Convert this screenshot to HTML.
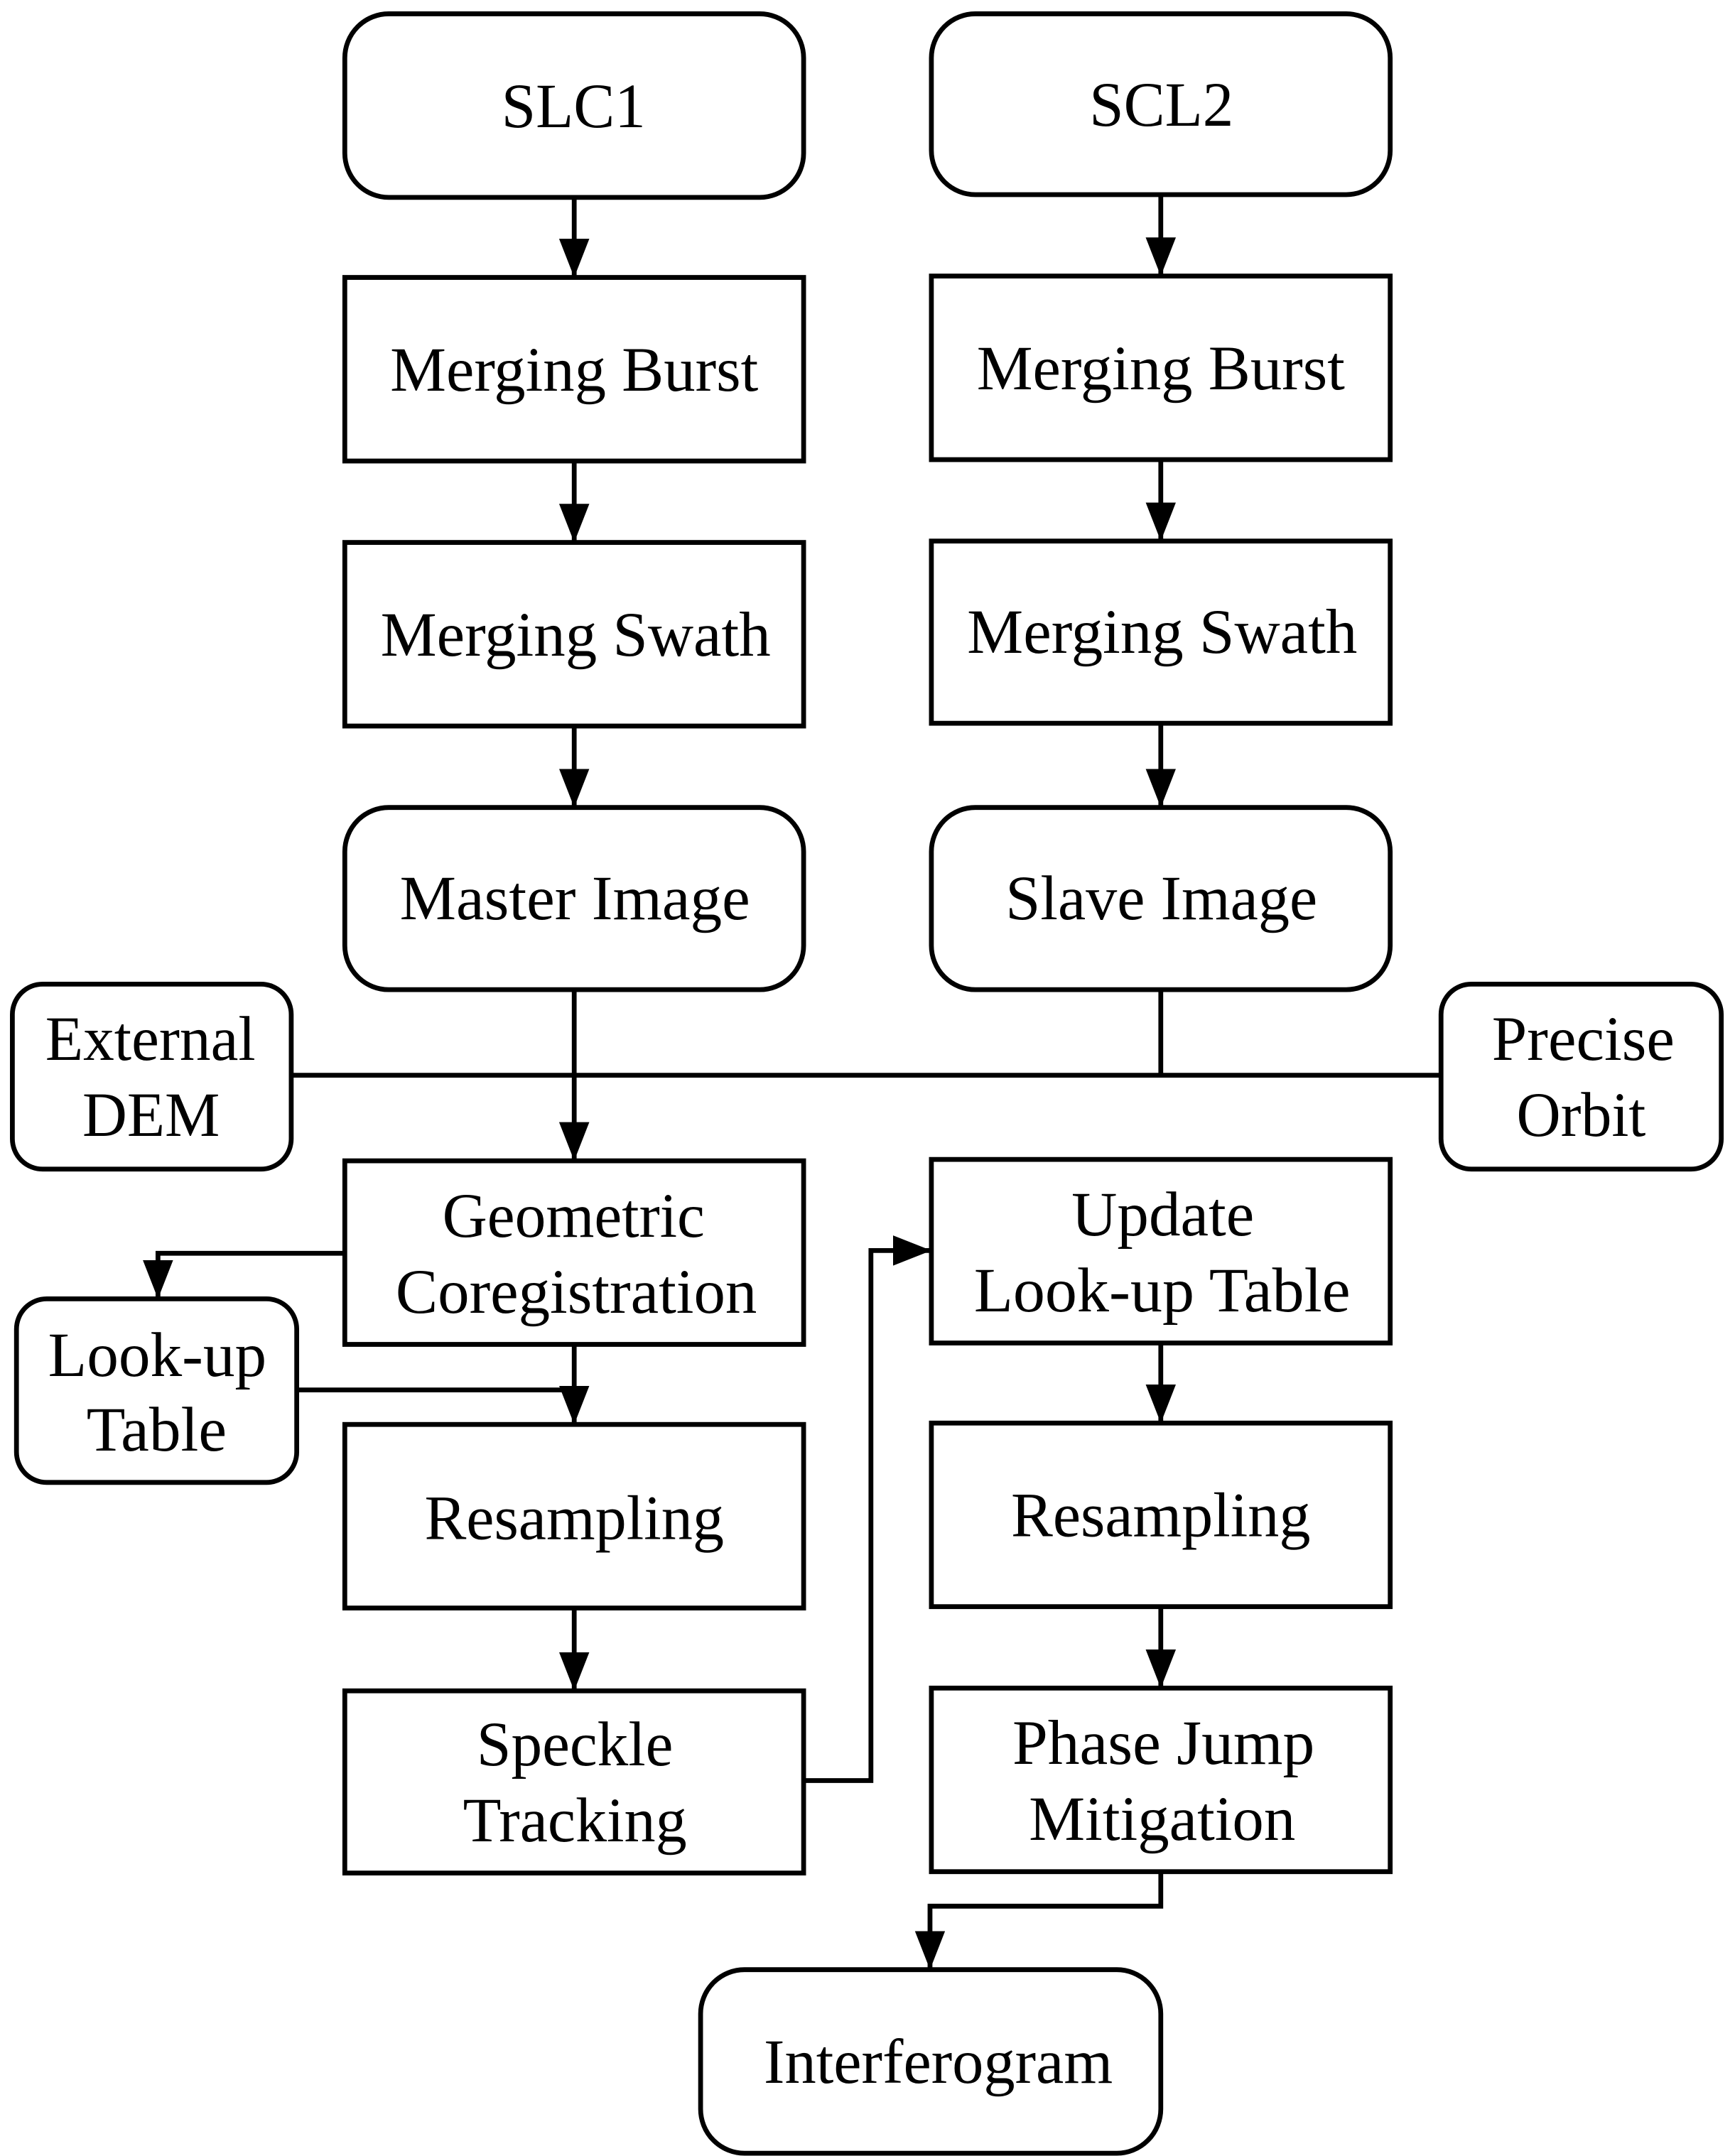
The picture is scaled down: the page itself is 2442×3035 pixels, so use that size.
<!DOCTYPE html>
<html><head><meta charset="utf-8"><style>html,body{margin:0;padding:0;background:#fff;}svg{display:block}</style></head>
<body>
<svg width="2442" height="3035" viewBox="0 0 1263 1562" preserveAspectRatio="none" xmlns="http://www.w3.org/2000/svg">
<defs><marker id="a" markerWidth="28" markerHeight="22" refX="28" refY="11" orient="auto" markerUnits="userSpaceOnUse" viewBox="0 0 28 22"><path d="M0,0 L28,11 L0,22 Z" fill="#000"/></marker></defs>
<g fill="#fff" stroke="#000" stroke-width="3.5">
<rect x="251" y="10" width="334" height="133" rx="32"/>
<rect x="678" y="10" width="334" height="131" rx="32"/>
<rect x="251" y="201" width="334" height="133"/>
<rect x="678" y="200" width="334" height="133"/>
<rect x="251" y="393" width="334" height="133"/>
<rect x="678" y="392" width="334" height="132"/>
<rect x="251" y="585" width="334" height="132" rx="32"/>
<rect x="678" y="585" width="334" height="132" rx="32"/>
<rect x="9" y="713" width="203" height="134" rx="22"/>
<rect x="1049" y="713" width="204" height="134" rx="22"/>
<rect x="251" y="841" width="334" height="133"/>
<rect x="678" y="840" width="334" height="133"/>
<rect x="12" y="941" width="204" height="133" rx="22"/>
<rect x="251" y="1032" width="334" height="133"/>
<rect x="678" y="1031" width="334" height="133"/>
<rect x="251" y="1225" width="334" height="132"/>
<rect x="678" y="1223" width="334" height="133"/>
<rect x="510" y="1427" width="335" height="133" rx="32"/>
</g>
<g fill="none" stroke="#000" stroke-width="3.5">
<line x1="418" y1="143" x2="418" y2="201" marker-end="url(#a)"/>
<line x1="845" y1="141" x2="845" y2="200" marker-end="url(#a)"/>
<line x1="418" y1="334" x2="418" y2="393" marker-end="url(#a)"/>
<line x1="845" y1="333" x2="845" y2="392" marker-end="url(#a)"/>
<line x1="418" y1="526" x2="418" y2="585" marker-end="url(#a)"/>
<line x1="845" y1="524" x2="845" y2="585" marker-end="url(#a)"/>
<line x1="418" y1="717" x2="418" y2="841" marker-end="url(#a)"/>
<line x1="845" y1="717" x2="845" y2="779"/>
<line x1="212" y1="779" x2="1049" y2="779"/>
<polyline points="251,908 115,908 115,941" marker-end="url(#a)"/>
<polyline points="216,1007 418,1007"/>
<line x1="418" y1="974" x2="418" y2="1032" marker-end="url(#a)"/>
<line x1="418" y1="1165" x2="418" y2="1225" marker-end="url(#a)"/>
<polyline points="585,1290 634,1290 634,906 678,906" marker-end="url(#a)"/>
<line x1="845" y1="973" x2="845" y2="1031" marker-end="url(#a)"/>
<line x1="845" y1="1164" x2="845" y2="1223" marker-end="url(#a)"/>
<polyline points="845,1356 845,1381 677,1381 677,1427" marker-end="url(#a)"/>
</g>
<g font-family="'Liberation Serif', serif" font-size="46" fill="#000">
<text x="365" y="92" textLength="105" lengthAdjust="spacingAndGlyphs">SLC1</text>
<text x="793" y="91" textLength="105" lengthAdjust="spacingAndGlyphs">SCL2</text>
<text x="284" y="283" textLength="268" lengthAdjust="spacingAndGlyphs">Merging Burst</text>
<text x="711" y="282" textLength="268" lengthAdjust="spacingAndGlyphs">Merging Burst</text>
<text x="277" y="475" textLength="284" lengthAdjust="spacingAndGlyphs">Merging Swath</text>
<text x="704" y="473" textLength="284" lengthAdjust="spacingAndGlyphs">Merging Swath</text>
<text x="291" y="666" textLength="255" lengthAdjust="spacingAndGlyphs">Master Image</text>
<text x="732" y="666" textLength="227" lengthAdjust="spacingAndGlyphs">Slave Image</text>
<text x="33" y="768" textLength="153" lengthAdjust="spacingAndGlyphs">External</text>
<text x="60" y="823" textLength="100" lengthAdjust="spacingAndGlyphs">DEM</text>
<text x="1086" y="768" textLength="133" lengthAdjust="spacingAndGlyphs">Precise</text>
<text x="1104" y="823" textLength="94" lengthAdjust="spacingAndGlyphs">Orbit</text>
<text x="322" y="896" textLength="191" lengthAdjust="spacingAndGlyphs">Geometric</text>
<text x="288" y="951" textLength="263" lengthAdjust="spacingAndGlyphs">Coregistration</text>
<text x="780" y="895" textLength="133" lengthAdjust="spacingAndGlyphs">Update</text>
<text x="709" y="950" textLength="274" lengthAdjust="spacingAndGlyphs">Look-up Table</text>
<text x="35" y="997" textLength="159" lengthAdjust="spacingAndGlyphs">Look-up</text>
<text x="63" y="1051" textLength="102" lengthAdjust="spacingAndGlyphs">Table</text>
<text x="309" y="1115" textLength="218" lengthAdjust="spacingAndGlyphs">Resampling</text>
<text x="736" y="1113" textLength="218" lengthAdjust="spacingAndGlyphs">Resampling</text>
<text x="347" y="1279" textLength="143" lengthAdjust="spacingAndGlyphs">Speckle</text>
<text x="337" y="1334" textLength="163" lengthAdjust="spacingAndGlyphs">Tracking</text>
<text x="737" y="1278" textLength="220" lengthAdjust="spacingAndGlyphs">Phase Jump</text>
<text x="749" y="1333" textLength="194" lengthAdjust="spacingAndGlyphs">Mitigation</text>
<text x="556" y="1509" textLength="254" lengthAdjust="spacingAndGlyphs">Interferogram</text>
</g>
</svg>
</body></html>
